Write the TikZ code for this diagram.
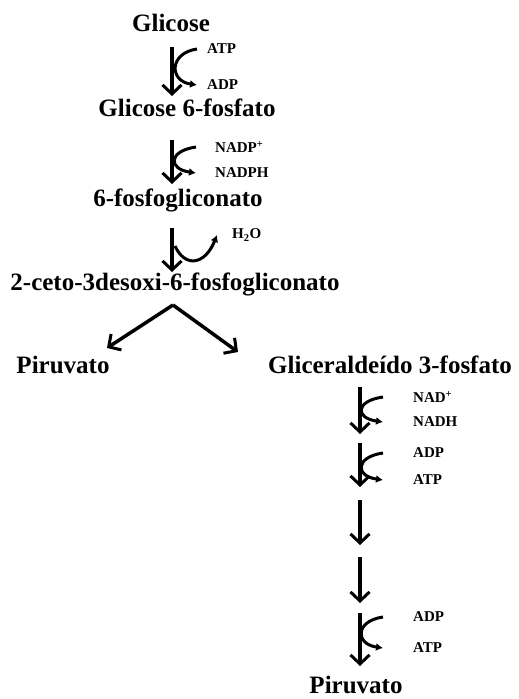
\documentclass[tikz,border=0pt]{standalone}
\usepackage{fontspec}
\setmainfont{Liberation Serif}
\usepackage{tikz}
\usetikzlibrary{arrows.meta}

\begin{document}
\begin{tikzpicture}[x=1pt, y=-1pt,
        metab/.style={font=\fontsize{25}{30}\selectfont\bfseries, inner sep=0pt, anchor=base},
        cofac/.style={font=\fontsize{15}{18}\selectfont\bfseries, inner sep=0pt, anchor=west},
        reac/.style={line width=3.5pt, -{Straight Barb[length=9pt, width=19pt, line width=3pt]}},
        side/.style={line width=3pt, -{Latex[length=7pt, width=8pt]}}]
    \useasboundingbox (0,0) rectangle (519,699);
    % metabolites
    \node[metab] (glc)  at (171,31)  {Glicose};
    \node[metab] (g6p)  at (187,116) {Glicose 6-fosfato};
    \node[metab] (pgl)  at (178,206) {6-fosfogliconato};
    \node[metab] (kdpg) at (175,290) {2-ceto-3desoxi-6-fosfogliconato};
    \node[metab] (pyr1) at (63,373)  {Piruvato};
    \node[metab] (gap)  at (390,373) {Gliceraldeído 3-fosfato};
    \node[metab] (pyr2) at (356,693) {Piruvato};
    % main steps
    \foreach \n/\x/\ya/\yb in {s1/172/47/96, s2/172/140/184, s3/172/228/272,
            r1/360/387/434, r2/360/443/487, r3/360/500/545, r4/360/557/603, r5/360/613/666} {
        \coordinate (\n t) at (\x,\ya);
        \coordinate (\n h) at (\x,\yb);
        \draw[reac] (\n t) -- (\n h);
    }
    % cofactors
    \foreach \n/\x/\ya/\yb/\d/\up/\lo in {c1/207/49/85/10/ATP/ADP,
            c2/215/147/173/19/{NADP\textsuperscript{+}}/NADPH,
            c4/413/397/422/30/{NAD\textsuperscript{+}}/NADH,
            c5/413/453/480/30/ADP/ATP, c6/413/617/648/30/ADP/ATP} {
        \node[cofac] (\n u) at (\x,\ya) {\up};
        \node[cofac] (\n l) at (\x,\yb) {\lo};
        \draw[side] ([xshift=-\d pt]\n u.west) .. controls +(-28,4) and +(-28,-4) .. ([xshift=-\d pt]\n l.west);
    }
    \node[cofac] (h2o) at (232,235) {H\textsubscript{2}O};
    \draw[side] ([xshift=3pt, yshift=-18pt]s3t) .. controls +(10,22) and +(-12,30) .. ([xshift=-15pt]h2o.west);
    % split
    \coordinate (fork) at (173,305);
    \coordinate (forkl) at (107,348);
    \coordinate (forkr) at (238,352);
    \draw[reac] (fork) -- (forkl);
    \draw[reac] (fork) -- (forkr);
\end{tikzpicture}
\end{document}
